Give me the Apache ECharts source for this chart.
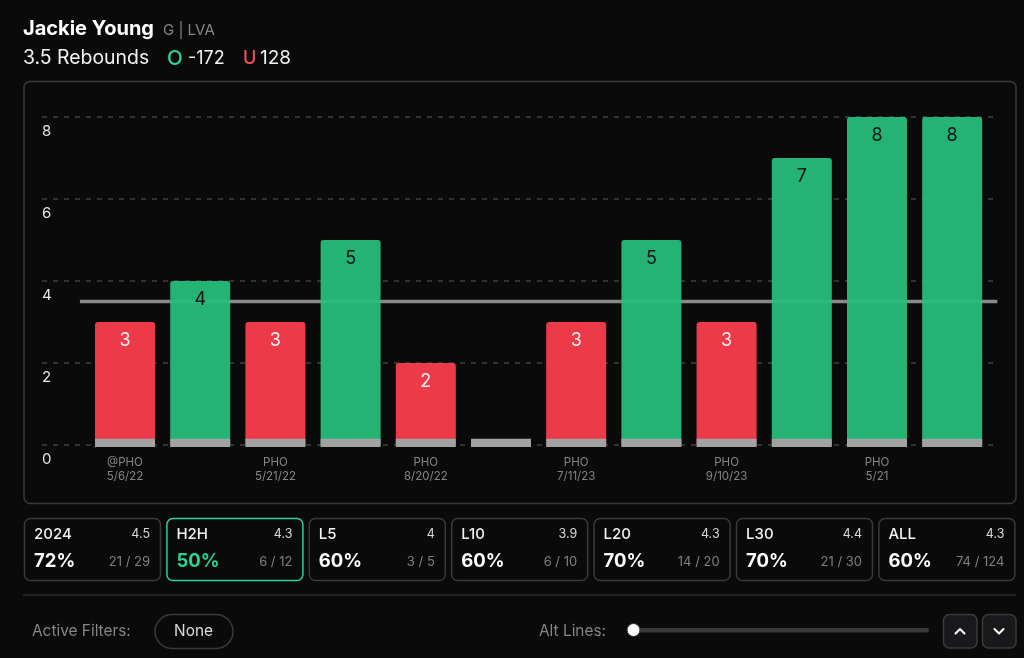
<!DOCTYPE html>
<html>
<head>
<meta charset="utf-8">
<style>html,body{margin:0;padding:0;background:#0a0a0b}#c{width:1024px;height:658px}</style>
<script src="https://cdn.jsdelivr.net/npm/echarts@6/dist/echarts.min.js"></script>
</head>
<body>
<div id="c"></div>
<script>
const games = [0,1,2,3,4,5,6,7,8,9,10,11];
const rebounds = [3,4,3,5,2,0,3,5,3,7,8,8];
const lineValue = 3.5;
const lineSpan = [-0.6, 11.6];
const baseBand = [-0.05, 0.15];
const tickGames = [0,2,4,6,8,10];
const tickOpp = ['@PHO','PHO','PHO','PHO','PHO','PHO'];
const tickDates = ['5/6/22','5/21/22','8/20/22','7/11/23','9/10/23','5/21'];
const cardNames = ['2024','H2H','L5','L10','L20','L30','ALL'];
const cardAvgs = ['4.5','4.3','4','3.9','4.3','4.4','4.3'];
const cardPcts = ['72%','50%','60%','60%','70%','70%','60%'];
const cardCounts = ['21 / 29','6 / 12','3 / 5','6 / 10','14 / 20','21 / 30','74 / 124'];
const activeCard = 1;

const FONT = 'Inter';
const GREEN = '#27bd7c', RED = '#fb3e4e', ACCENT = '#2ed192';
const txt = (x,y,text,size,fill,weight,align) => ({type:'text',silent:true,x,y,z:1,
  style:{text,fontFamily:FONT,fontSize:size,fill,fontWeight:weight||400,align:align||'left',verticalAlign:'middle'}});
const box = (x,y,w,h,r,stroke,fill,lw) => ({type:'rect',silent:true,z:0,
  shape:{x:x+.5,y:y+.5,width:w,height:h,r},style:{fill:fill||'transparent',stroke:stroke||'transparent',lineWidth:lw||1.5}});

const g = [];
g.push(box(23.5,81,992,422,6,'#3a3a3d'));
g.push(txt(23,29,'Jackie Young',20,'#ffffff',700));
g.push(txt(163,30,'G | LVA',15,'#858585'));
g.push(txt(23,58.5,'3.5 Rebounds',19.4,'#f2f2f2'));
g.push(txt(167,58.5,'O',20.5,ACCENT,500));
g.push(txt(188,58.5,'-172',18,'#f2f2f2'));
g.push(txt(243,58.5,'U',18,'#f0505a',500));
g.push(txt(260,58.5,'128',19,'#f2f2f2'));
cardNames.forEach((n,i)=>{
  const x = 24 + i*142.4, w = 136, on = i===activeCard;
  g.push(box(x,518,w,62,6,on?ACCENT:'#3a3a3d'));
  g.push(txt(x+10,534.5,n,15,'#f2f2f2',500));
  g.push(txt(x+126,534.5,cardAvgs[i],12.5,'#d8d8d8',400,'right'));
  g.push(txt(x+10,561,cardPcts[i],18.5,on?ACCENT:'#ffffff',700));
  g.push(txt(x+126,562,cardCounts[i],13,'#7f7f7f',400,'right'));
});
g.push({type:'rect',silent:true,shape:{x:23,y:594.5,width:993,height:1},style:{fill:'#3a3a3d'}});
g.push(txt(32,631.5,'Active Filters:',15.4,'#858585'));
g.push(box(154.5,614,78,34,17,'#3a3a3d'));
g.push(txt(193.5,631.5,'None',15.4,'#dcdcdc',400,'center'));
g.push(txt(539,631.5,'Alt Lines:',15.4,'#858585'));
g.push({type:'rect',silent:true,shape:{x:633,y:628,width:296,height:4.5,r:2.2},style:{fill:'#3a3a3d'}});
g.push({type:'circle',silent:true,shape:{cx:633.5,cy:630,r:6.5},style:{fill:'#ffffff',stroke:'#2a2a2c',lineWidth:1}});
[[943,'up'],[982,'down']].forEach(([x,d])=>{
  g.push(box(x,614,33.5,33.5,6,'#3a3a3d','#19191b'));
  const cx=x+17, cy=631;
  const pts = d==='up' ? [[cx-4.5,cy+2.5],[cx,cy-2],[cx+4.5,cy+2.5]] : [[cx-4.5,cy-2],[cx,cy+2.5],[cx+4.5,cy-2]];
  g.push({type:'polyline',silent:true,z:1,shape:{points:pts},style:{stroke:'#ffffff',lineWidth:2,fill:null,lineCap:'round',lineJoin:'round'}});
});

const chart = echarts.init(document.getElementById('c'));
chart.setOption({
  backgroundColor:'#0a0a0b',
  animation:false,
  textStyle:{fontFamily:FONT},
  graphic:{elements:g},
  grid:{left:42,right:27,top:117,bottom:213,containLabel:false},
  xAxis:{type:'value',min:-1.104,max:11.596,splitLine:{show:false},axisLine:{show:false},
    axisTick:{show:false},
    axisLabel:{show:true,customValues:tickGames,color:'#858585',fontSize:11.5,lineHeight:14,margin:11,fontFamily:FONT,
      formatter:v=>{const i=tickGames.indexOf(v);return i<0?'':tickOpp[i]+'\n'+tickDates[i];}}},
  yAxis:{type:'value',min:0,max:8,interval:2,axisLine:{show:false},axisTick:{show:false},
    splitLine:{show:true,lineStyle:{color:'#404042',width:1.5,type:[5,6]}},
    axisLabel:{inside:true,margin:0,align:'left',verticalAlign:'top',lineHeight:16,padding:[6,0,0,0],color:'#e6e6e6',fontSize:15,fontFamily:FONT}},
  series:[
    {type:'line',z:2,silent:true,showSymbol:false,clip:false,
      data:lineSpan.map(x=>[x,lineValue]),lineStyle:{color:'#8a8a8a',width:3.5}},
    {type:'bar',z:3,barWidth:60,silent:true,
      data:games.map(i=>({value:[i,rebounds[i]],
        itemStyle:{color:rebounds[i]>lineValue?GREEN:RED,opacity:.94,borderRadius:[3,3,0,0]},
        label:{color:rebounds[i]>lineValue?'#0a0a0b':'#ffffff'}})),
      label:{show:true,position:'insideTop',distance:10,fontSize:18,fontFamily:FONT,
        formatter:p=>p.value[1]===0?'':String(p.value[1])}},
    {type:'custom',z:4,silent:true,clip:false,data:games.map(i=>[i]),
      renderItem:(params,api)=>{
        const i=api.value(0), a=api.coord([i,baseBand[1]]), b=api.coord([i,baseBand[0]]);
        return {type:'rect',shape:{x:a[0]-30,y:a[1],width:60,height:b[1]-a[1]},style:{fill:'#a2a2a2'}};
      }}
  ]
});
</script>
</body>
</html>
